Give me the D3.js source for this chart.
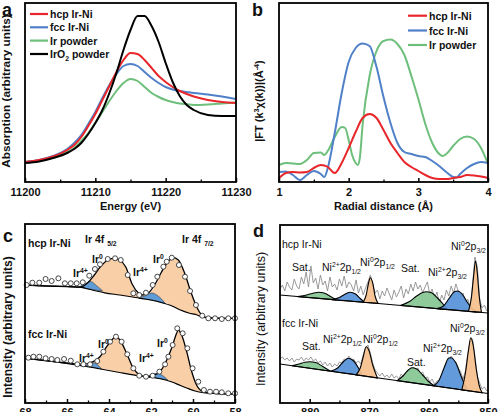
<!DOCTYPE html>
<html><head><meta charset="utf-8">
<script src="https://cdn.jsdelivr.net/npm/d3@7"></script>
<style>body{margin:0;background:#fff}svg{display:block}text{font-family:"Liberation Sans",Arial,sans-serif}</style>
</head><body>
<svg id="chart" width="500" height="412"></svg>
<script>
// ---------- Panel a : XANES ----------
const xanesEnergy = [11200,11202,11204,11206,11207,11208,11209,11210,11211,11212,11213,11214,11215,11216,11217,11218,11219,11220,11221,11222,11223,11224,11226,11228,11230];
const xanesHcp  = [20,22,25.5,32,37,45,56,68,82,96,110,122,129,128,122,114,106,100,95,91,88,85.5,82,80,79];
const xanesFcc  = [20,22,26,33,39,47,58,70,84,97,108,116,118,116,110,104,99,95,92.5,91,90,89,87.5,85.5,83];
const xanesIr   = [20,21.5,24.5,30,34,41,49,59,70,81,91,99,103,101,95,89,85,82,80,78.5,77.7,77,77.5,78.5,79.5];
const xanesIrO2 = [19,20.5,24,29,33,39,48,59,72,89,109,132,152,166,166,156,140,119,100,86,77,72,67,66,66];
const xanesTicks = [11200,11210,11220,11230];
const xanesMinor = [11205,11215,11225];
const xanesNames = ["hcp Ir-Ni","fcc Ir-Ni","Ir powder","IrO2 powder"];

// ---------- Panel b : EXAFS ----------
const rGrid = [1.0,1.1,1.2,1.3,1.4,1.5,1.6,1.65,1.7,1.8,1.9,2.0,2.1,2.2,2.3,2.4,2.5,2.6,2.7,2.8,2.9,3.0,3.1,3.2,3.3,3.4,3.5,3.55,3.6,3.7,3.8,3.9,4.0];
const ftHcp = [4,9,10,9.5,10,14,17,16.5,15,9,19,34,50,64,68,64,52,39,29,20,15,11,7,4,3,3,4,4.5,5,7,6.5,5.5,4];
const ftFcc = [10,10.5,7,2,7,11,8,5,14,49,89,120,134,138.5,136,115,85,59,39,30,28,26,25,21,16,10,5,4.5,8,14,18,20,19];
const rGridIr = [1.0,1.1,1.2,1.3,1.4,1.5,1.6,1.65,1.7,1.8,1.9,1.95,2.0,2.05,2.1,2.13,2.16,2.2,2.3,2.4,2.5,2.6,2.7,2.8,2.9,3.0,3.1,3.2,3.3,3.35,3.4,3.5,3.6,3.7,3.8,3.9,4.0];
const ftIr = [17,19,18.5,18,22,29,29.5,27,31,45,55,54,42,27,19,17,24,57,106,131,141,142.5,138,127,106,83,58,39,28,26,28,36,43,45.5,43,34,18];
const rTicks = [1,2,3,4];
const rMinor = [1.5,2.5,3.5];

// ---------- Panel c : Ir 4f XPS ----------
const irTicks = [68,66,64,62,60,58];
const irMinor = [67,65,63,61,59];
const irHcpData = [[67.92,118],[67.65,120.3],[67.32,120.3],[67.02,124],[66.73,122],[66.41,124.7],[66.10,119.7],[65.82,119.7],[65.54,119.7],[65.25,120.7],[64.94,127.3],[64.67,134],[64.43,138.7],[64.06,144],[63.71,144.7],[63.44,143],[63.11,128],[62.84,109.7],[62.56,108],[62.24,110.3],[61.92,118],[61.70,126.3],[61.41,136.3],[61.25,141.3],[61.01,145.3],[60.67,138],[60.38,126.3],[60.14,112],[59.86,98],[59.56,87.3],[59.27,84.7],[58.95,84.7],[58.63,84],[58.32,84.7],[58.0,84.7]];
const irHcpEnvelope = [[68,118],[67,117],[66,116.3],[65.4,115.8],[65.0,120.5],[64.7,128],[64.4,136.5],[64.1,142.5],[63.8,144.7],[63.5,143],[63.2,136],[62.9,119],[62.6,110],[62.4,108],[62.1,110.5],[61.8,119],[61.5,131],[61.2,141],[60.95,145.3],[60.7,143],[60.4,130],[60.1,111],[59.8,95],[59.5,86.5],[59.2,85],[58.5,84.7],[58,84.7]];
const irHcpBackground = [[68,118],[67,117],[66,116.5],[65.4,115.8],[64.8,113],[64.2,110.2],[63.5,108],[62.5,104.7],[61.6,101],[61.0,97],[60.6,93],[60.2,90],[59.8,88],[59.5,85.5],[59.2,85],[58,84.7]];
const irHcpIr0a = [[65.4,115.8,115.8],[65.0,120,114.5],[64.7,127.5,113.5],[64.4,136,111.2],[64.1,142.3,110],[63.8,144.5,109],[63.5,142.8,108],[63.2,135.8,107],[62.9,118,106],[62.6,108,105],[62.3,104.5,104],[62.0,103,103]];
const irHcpIr0b = [[62.8,106,106],[62.4,107,104.5],[62.1,109.5,103.5],[61.8,117,102.3],[61.5,130,101.4],[61.2,140.5,99.5],[60.95,145,97],[60.7,142.5,94],[60.4,129.5,91.5],[60.1,110.5,89.5],[59.8,94.5,88],[59.5,86,85.5],[59.2,85,85]];
const irHcpIr4a = [[65.45,116,116],[65.15,119,114.8],[64.88,121.5,113.8],[64.6,117.5,112.8],[64.3,112,112]];
const irHcpIr4b = [[62.6,105,105],[62.3,107,104],[61.97,110,103],[61.6,106,101],[61.3,99,99]];
const irFccData = [[67.84,45.3],[67.60,46.3],[67.32,46.3],[67.02,44.7],[66.73,44],[66.46,43],[66.14,44],[65.82,42.3],[65.51,38.7],[65.22,38.7],[64.90,38.7],[64.56,42],[64.27,51.3],[63.95,61.3],[63.67,66.3],[63.40,61.3],[63.13,48.7],[62.84,34.7],[62.56,27.3],[62.24,26.3],[61.92,27.3],[61.60,31.3],[61.33,38.7],[61.17,46.3],[60.97,58],[60.75,74.7],[60.49,69.7],[60.27,54.7],[60.02,34.7],[59.75,21.3],[59.48,13],[59.19,11.3],[58.90,11.3],[58.63,10.7],[58.32,9.7],[58.0,9.7]];
const irFccEnvelope = [[67.95,44.7],[67,42.5],[66,40],[65.22,38.7],[64.75,41.3],[64.43,46.3],[64.11,56.3],[63.79,64.7],[63.67,66.3],[63.48,63],[63.16,49.7],[62.84,34.7],[62.52,28],[62.21,26.3],[61.89,27.3],[61.57,31.3],[61.25,43],[61.02,54.7],[60.78,69.7],[60.70,73],[60.54,68],[60.30,51.3],[60.06,31.3],[59.83,18],[59.51,11.3],[59.03,9.7],[57.95,9]];
const irFccBackground = [[68,44.7],[67,42.3],[66,39.5],[65.2,37],[64.4,34],[63.5,30.5],[62.5,27],[61.9,25.5],[61.3,23],[61.0,21],[60.6,17.5],[60.3,15],[59.9,12],[59.5,10.3],[59,9.5],[58,9]];
const irFccIr0a = [[65.1,37,37],[64.75,41.3,35.8],[64.43,46.3,34.6],[64.11,56,33.5],[63.79,64.5,32],[63.67,66.3,31.5],[63.48,63,30.5],[63.16,49.7,29.3],[62.84,34,28],[62.52,28,27],[62.2,26.2,26.2]];
const irFccIr0b = [[62.3,26.5,26.5],[62.0,27,25.8],[61.7,30,25],[61.4,37,24],[61.2,46,23.2],[61.0,56,21],[60.78,69.5,19],[60.7,73,18.2],[60.54,68,16.8],[60.3,51.3,15],[60.06,31.3,13.3],[59.83,18,11.8],[59.6,12,10.8],[59.4,10,10]];
const irFccIr4a = [[65.1,37,37],[64.85,40.5,36],[64.6,39,35.2],[64.35,34,34]];
const irFccIr4b = [[62.25,26.3,26.3],[61.95,28.5,25.8],[61.73,29.7,25],[61.45,27.5,24],[61.2,23,23]];

// ---------- Panel d : Ni 2p XPS ----------
const niTicks = [880,870,860,850];
const niMinor = [875,865,855];
const niEnergy = [885.0,884.6,884.2,883.8,883.4,883.0,882.6,882.2,881.8,881.4,881.0,880.6,880.2,879.8,879.4,879.0,878.6,878.2,877.8,877.4,877.0,876.6,876.2,875.8,875.4,875.0,874.6,874.2,873.8,873.4,873.0,872.6,872.2,871.8,871.4,871.0,870.6,870.2,869.8,869.4,869.0,868.6,868.2,867.8,867.4,867.0,866.6,866.2,865.8,865.4,865.0,864.6,864.2,863.8,863.4,863.0,862.6,862.2,861.8,861.4,861.0,860.6,860.2,859.8,859.4,859.0,858.6,858.2,857.8,857.4,857.0,856.6,856.2,855.8,855.4,855.0,854.6,854.2,853.8,853.4,853.0,852.6,852.2,851.8,851.4,851.0,850.6,850.2];
const niHcpRaw = [114,118,112,121,116,113,124,117,114,126,119,131,116,137,120,125,114,128,118,122,112,126,116,119,113,124,117,127,115,121,118,112,123,110,117,108,115,121,128,119,110,113,104,112,107,115,109,103,113,106,111,117,105,114,109,119,112,121,114,118,110,116,121,109,114,104,111,99,108,103,113,107,117,110,119,112,106,110,100,104,96,118,146,136,104,95,98,92];
const niFccRaw = [44,46,43,45,42,45,41,44,43,46,42,45,43,46,42,44,40,42,38,41,37,40,36,39,37,41,40,44,43,47,43,44,40,42,39,48,55,58,50,40,33,30,27,30,26,28,25,29,25,27,24,29,26,31,33,31,36,33,35,29,31,25,26,21,24,19,22,23,28,33,39,43,47,42,41,35,31,24,32,49,62,64,47,27,20,14,16,12];
const niHcpBackground = [[885,108],[850,90]];
const niHcpSat1 = [[882,106.4],[880.5,108],[879.3,110],[878.5,110.8],[877.6,110],[876.5,106.5],[875.5,103.1]];
const niHcpNi2a = [[876.3,103.3],[875,105.5],[874,109],[873.2,110.7],[872.3,109],[871.5,104.5],[870.8,100.7]];
const niHcpNi0a = [[871,100.8],[870.5,108],[870.1,120],[869.8,125.3],[869.4,120],[869.0,107],[868.5,99.6]];
const niHcpSat2 = [[864.7,97.6],[863.2,101.5],[862,107],[861,110.5],[860.4,111.3],[859.6,110.5],[858.5,105],[857.5,98.5],[856.8,93.5]];
const niHcpNi2b = [[858.6,94.4],[857.5,97],[856.5,105],[855.6,111.5],[855.1,112],[854.3,108.5],[853.4,100],[852.5,93.5],[851.8,90.9]];
const niHcpNi0b = [[853.3,91.7],[852.8,105],[852.4,128],[852.1,142],[851.8,130],[851.5,108],[851.1,90.6]];
const niFccBackground = [[885,39],[850,9.5]];
const niFccSat1 = [[883,37.3],[881.8,39],[880.8,40.8],[880,41.3],[879,40.5],[877.8,36.5],[876.5,31.8]];
const niFccNi2a = [[876.5,31.8],[875.3,35],[874.3,41.5],[873.5,44.7],[872.6,42],[871.8,35],[871.2,27.4]];
const niFccNi0a = [[872.2,28.2],[871.5,35],[871.0,46],[870.5,56.3],[870.0,52],[869.4,38],[868.6,24.9]];
const niFccSat2 = [[865.3,22.4],[864.3,27],[863.5,32.5],[862.8,35.3],[862,34],[861,28],[860,21.5],[859,17.1]];
const niFccNi2b = [[859.2,17.3],[858.3,22],[857.4,35],[856.6,45],[856.2,45.3],[855.4,40],[854.6,28],[853.8,17],[853.3,12.3]];
const niFccNi0b = [[854.4,13.2],[853.8,30],[853.3,52],[852.9,65.3],[852.5,58],[852.0,35],[851.5,18],[851.0,10.3]];

// ---------- drawing ----------
const svg = d3.select("#chart");
const C = {red:"#e8262b", blue:"#4f80c8", green:"#6dbf7b", black:"#000",
  orangeC:"#f9cfa8", blueC:"#5f9bd6", greenD:"#86c593", blueD:"#5591d8", orangeD:"#f6c08c", gray:"#8e8e8e"};

function rich(g, x, y, parts, size, bold, opts) {
  opts = opts || {};
  const t = g.append("text").attr("font-size", size).attr("font-weight", bold ? 700 : 400).attr("fill", "#111");
  if (opts.rotate) t.attr("transform", `translate(${x},${y}) rotate(-90)`).attr("text-anchor", "middle");
  else t.attr("x", x).attr("y", y).attr("text-anchor", opts.anchor || "start");
  let cur = 0;
  parts.forEach(p => {
    const s = Array.isArray(p) ? p[0] : p, k = Array.isArray(p) ? p[1] : "n";
    let target = 0, fs = size;
    if (k === "sup") { target = -size * 0.4; fs = size * 0.65; }
    if (k === "sub") { target = size * 0.25; fs = size * 0.65; }
    t.append("tspan").attr("dy", target - cur).attr("font-size", fs).text(s);
    cur = target;
  });
  return t;
}

function axes(x, yBottom, major, minor, labelPad, fmt) {
  const gM = svg.append("g").attr("transform", `translate(0,${yBottom})`)
    .call(d3.axisBottom(x).tickValues(major).tickSize(-4).tickSizeOuter(0).tickPadding(labelPad).tickFormat(fmt || d3.format("d")));
  gM.select(".domain").remove();
  gM.selectAll(".tick line").attr("stroke-width", 1.5);
  gM.selectAll("text").attr("font-size", 11).attr("font-weight", 700).attr("fill", "#111")
    .attr("font-family", '"Liberation Sans",Arial,sans-serif');
  const gm = svg.append("g").attr("transform", `translate(0,${yBottom})`)
    .call(d3.axisBottom(x).tickValues(minor).tickSize(-2.5).tickSizeOuter(0).tickFormat(""));
  gm.select(".domain").remove();
  gm.selectAll(".tick line").attr("stroke-width", 1.3);
}
function frame(x0, x1, y0, y1) {
  svg.append("rect").attr("x", x0).attr("y", y0).attr("width", x1 - x0).attr("height", y1 - y0)
    .attr("fill", "none").attr("stroke", "#000").attr("stroke-width", 1.8);
}

// ===== Panel a =====
{
  const x = d3.scaleLinear([11200, 11230], [25, 236]);
  const y = d3.scaleLinear([0, 179], [182, 3]);
  const line = d3.line().x(d => x(d[0])).y(d => y(d[1])).curve(d3.curveMonotoneX);
  const series = [[xanesHcp, C.red], [xanesFcc, C.blue], [xanesIr, C.green], [xanesIrO2, C.black]];
  const draw = [2, 1, 0, 3];
  draw.forEach(i => {
    const pts = xanesEnergy.map((e, j) => [e, series[i][0][j]]);
    svg.append("path").attr("d", line(pts)).attr("fill", "none").attr("stroke", series[i][1]).attr("stroke-width", 2);
  });
  axes(x, 182, xanesTicks, xanesMinor, 6);
  frame(25, 236, 3, 182);
  const g = svg.append("g");
  const rows = [14, 27.3, 40.6, 54];
  series.forEach((s, i) => {
    g.append("line").attr("x1", 30).attr("x2", 48).attr("y1", rows[i]).attr("y2", rows[i]).attr("stroke", s[1]).attr("stroke-width", 2.2);
  });
  rich(g, 50, rows[0] + 4, [xanesNames[0]], 10.5, true);
  rich(g, 50, rows[1] + 4, [xanesNames[1]], 10.5, true);
  rich(g, 50, rows[2] + 4, [xanesNames[2]], 10.5, true);
  rich(g, 50, rows[3] + 4, ["IrO", ["2", "sub"], " powder"], 10.5, true);
  rich(g, 130.5, 209.5, ["Energy (eV)"], 11, true, {anchor: "middle"});
  rich(g, 10, 91, ["Absorption (arbitrary units)"], 11.8, true, {rotate: true});
  rich(g, 2, 16, ["a"], 18, true);
}

// ===== Panel b =====
{
  const x = d3.scaleLinear([1, 4], [279, 488]);
  const y = d3.scaleLinear([0, 179], [182, 3]);
  const line = d3.line().x(d => x(d[0])).y(d => y(d[1])).curve(d3.curveMonotoneX);
  svg.append("path").attr("d", line(rGridIr.map((r, j) => [r, ftIr[j]]))).attr("fill", "none").attr("stroke", C.green).attr("stroke-width", 2);
  svg.append("path").attr("d", line(rGrid.map((r, j) => [r, ftFcc[j]]))).attr("fill", "none").attr("stroke", C.blue).attr("stroke-width", 2);
  svg.append("path").attr("d", line(rGrid.map((r, j) => [r, ftHcp[j]]))).attr("fill", "none").attr("stroke", C.red).attr("stroke-width", 2);
  axes(x, 182, rTicks, rMinor, 6);
  frame(279, 488, 3, 182);
  const g = svg.append("g");
  const rows = [15.7, 30.5, 45];
  const cols = [C.red, C.blue, C.green];
  const names = [xanesNames[0], xanesNames[1], xanesNames[2]];
  rows.forEach((r, i) => {
    g.append("line").attr("x1", 408).attr("x2", 427).attr("y1", r).attr("y2", r).attr("stroke", cols[i]).attr("stroke-width", 2.2);
    rich(g, 429, r + 4, [names[i]], 10.5, true);
  });
  rich(g, 383.5, 209.5, ["Radial distance (Å)"], 11, true, {anchor: "middle"});
  rich(g, 263, 101, ["|FT (k", ["3", "sup"], "χ(k))|(Å", ["-4", "sup"], ")"], 11, true, {rotate: true});
  rich(g, 252, 16, ["b"], 18, true);
}

// ===== Panel c =====
{
  const x = d3.scaleLinear([68, 58], [25, 235]);
  const y = d3.scaleLinear([0, 179], [403, 224]);
  const area = d3.area().x(d => x(d[0])).y0(d => y(d[2])).y1(d => y(d[1])).curve(d3.curveMonotoneX);
  const line = d3.line().x(d => x(d[0])).y(d => y(d[1])).curve(d3.curveMonotoneX);
  const sets = [
    [irHcpIr0a, irHcpIr0b, irHcpIr4a, irHcpIr4b, irHcpBackground, irHcpEnvelope, irHcpData],
    [irFccIr0a, irFccIr0b, irFccIr4a, irFccIr4b, irFccBackground, irFccEnvelope, irFccData]];
  sets.forEach(s => {
    [s[0], s[1]].forEach(c => svg.append("path").attr("d", area(c)).attr("fill", C.orangeC).attr("stroke", "none"));
    [s[2], s[3]].forEach(c => svg.append("path").attr("d", area(c)).attr("fill", C.blueC).attr("stroke", "#222").attr("stroke-width", 0.5));
    svg.append("path").attr("d", line(s[4])).attr("fill", "none").attr("stroke", "#000").attr("stroke-width", 1.2);
    svg.append("path").attr("d", line(s[5])).attr("fill", "none").attr("stroke", "#000").attr("stroke-width", 1.3);
    svg.append("g").selectAll("circle").data(s[6]).join("circle")
      .attr("cx", d => x(d[0])).attr("cy", d => y(d[1])).attr("r", 2.5)
      .attr("fill", "#fff").attr("stroke", "#333").attr("stroke-width", 0.9);
  });
  axes(x, 403, irTicks, irMinor, 5);
  frame(25, 235, 224, 403);
  const g = svg.append("g");
  rich(g, 28, 246.5, ["hcp Ir-Ni"], 10.5, true);
  rich(g, 85, 243, ["Ir 4f ", ["5/2", "sub"]], 10.5, true);
  rich(g, 182, 243, ["Ir 4f ", ["7/2", "sub"]], 10.5, true);
  rich(g, 92, 263, ["Ir", ["0", "sup"]], 10.5, true);
  rich(g, 73, 277, ["Ir", ["4+", "sup"]], 10.5, true);
  rich(g, 133, 276, ["Ir", ["4+", "sup"]], 10.5, true);
  rich(g, 153, 263, ["Ir", ["0", "sup"]], 10.5, true);
  rich(g, 28, 338, ["fcc Ir-Ni"], 10.5, true);
  rich(g, 98, 348, ["Ir", ["0", "sup"]], 10.5, true);
  rich(g, 79, 362, ["Ir", ["4+", "sup"]], 10.5, true);
  rich(g, 139, 362, ["Ir", ["4+", "sup"]], 10.5, true);
  rich(g, 157, 347, ["Ir", ["0", "sup"]], 10.5, true);
  rich(g, 12, 327, ["Intensity (arbitrary units)"], 12, true, {rotate: true});
  rich(g, 3, 242, ["c"], 18, true);
}

// ===== Panel d =====
{
  const x = d3.scaleLinear([885, 850], [280, 488]);
  const y = d3.scaleLinear([0, 178], [403, 225]);
  const line = d3.line().x(d => x(d[0])).y(d => y(d[1])).curve(d3.curveMonotoneX);
  const raw = d3.line().x(d => x(d[0])).y(d => y(d[1]));
  const sets = [
    [niHcpRaw, niHcpBackground, [[niHcpSat1, C.greenD], [niHcpSat2, C.greenD], [niHcpNi2a, C.blueD], [niHcpNi2b, C.blueD], [niHcpNi0a, C.orangeD], [niHcpNi0b, C.orangeD]]],
    [niFccRaw, niFccBackground, [[niFccSat1, C.greenD], [niFccSat2, C.greenD], [niFccNi2a, C.blueD], [niFccNi2b, C.blueD], [niFccNi0a, C.orangeD], [niFccNi0b, C.orangeD]]]];
  sets.forEach(s => {
    svg.append("path").attr("d", raw(niEnergy.map((e, j) => [e, s[0][j]]))).attr("fill", "none").attr("stroke", C.gray).attr("stroke-width", 0.9);
    s[2].forEach(c => svg.append("path").attr("d", line(c[0]) + "Z").attr("fill", c[1]).attr("fill-opacity", 0.92)
      .attr("stroke", "#000").attr("stroke-width", 1.1));
    svg.append("path").attr("d", raw(s[1])).attr("fill", "none").attr("stroke", "#000").attr("stroke-width", 1.2);
  });
  axes(x, 403, niTicks, niMinor, 5);
  frame(280, 488, 225, 403);
  const g = svg.append("g");
  const fs = 10.5;
  rich(g, 282, 248, ["hcp Ir-Ni"], fs, false);
  rich(g, 292, 271, ["Sat."], fs, false);
  rich(g, 322, 271, ["Ni", ["2+", "sup"], "2p", ["1/2", "sub"]], fs, false);
  rich(g, 360, 266, ["Ni", ["0", "sup"], "2p", ["1/2", "sub"]], fs, false);
  rich(g, 401, 272, ["Sat."], fs, false);
  rich(g, 428, 276, ["Ni", ["2+", "sup"], "2p", ["3/2", "sub"]], fs, false);
  rich(g, 451, 250, ["Ni", ["0", "sup"], "2p", ["3/2", "sub"]], fs, false);
  rich(g, 282, 327, ["fcc Ir-Ni"], fs, false);
  rich(g, 302, 350, ["Sat."], fs, false);
  rich(g, 323, 343, ["Ni", ["2+", "sup"], "2p", ["1/2", "sub"]], fs, false);
  rich(g, 363, 343, ["Ni", ["0", "sup"], "2p", ["1/2", "sub"]], fs, false);
  rich(g, 407, 366, ["Sat."], fs, false);
  rich(g, 423, 352, ["Ni", ["2+", "sup"], "2p", ["3/2", "sub"]], fs, false);
  rich(g, 450, 332, ["Ni", ["0", "sup"], "2p", ["3/2", "sub"]], fs, false);
  rich(g, 265, 319, ["Intensity (arbitrary units)"], 12.5, false, {rotate: true});
  rich(g, 253, 237, ["d"], 18, true);
}
</script>
</body></html>
